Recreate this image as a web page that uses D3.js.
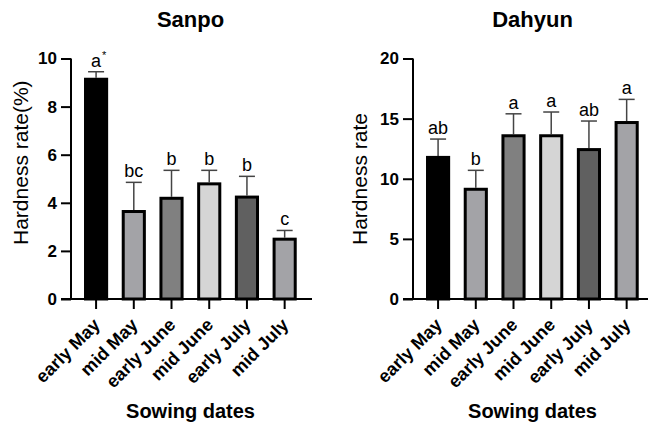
<!DOCTYPE html>
<html>
<head>
<meta charset="utf-8">
<script src="https://cdn.jsdelivr.net/npm/d3@7"></script>
<style>
  body { margin: 0; background: #fff; }
  text { font-family: Arial, "Liberation Sans", sans-serif; fill: #000; }
</style>
</head>
<body>
<div id="chart"></div>
<script>
// Data
const dates = ["early May", "mid May", "early June", "mid June", "early July", "mid July"];
const barColors = ["#000000", "#a3a3a7", "#808080", "#d5d5d5", "#606060", "#a3a3a7"];

const sanpoMean = [9.2, 3.7, 4.25, 4.85, 4.3, 2.55];
const sanpoErr = [0.25, 1.15, 1.1, 0.5, 0.8, 0.3];
const sanpoLetters = ["a", "bc", "b", "b", "b", "c"];
const sanpoMarks = ["*", "", "", "", "", ""];
const sanpoTicks = [0, 2, 4, 6, 8, 10];

const dahyunMean = [11.9, 9.25, 13.7, 13.7, 12.55, 14.8];
const dahyunErr = [1.4, 1.45, 1.7, 1.85, 2.25, 1.8];
const dahyunLetters = ["ab", "b", "a", "a", "ab", "a"];
const dahyunMarks = ["", "", "", "", "", ""];
const dahyunTicks = [0, 5, 10, 15, 20];

const W = 648, H = 423;
const svg = d3.select("#chart").append("svg")
  .attr("width", W)
  .attr("height", H);

function panel(opt) {
  var x0 = opt.left, plotW = 241;
  var yTop = 58.5, yBot = 299;

  var x = d3.scaleBand()
    .domain(dates)
    .range([x0, x0 + plotW])
    .paddingInner(0.36)
    .paddingOuter(0.375)
    .align(0.46);

  var y = d3.scaleLinear()
    .domain([0, opt.max])
    .range([yBot, yTop]);

  var g = svg.append("g");

  // title
  g.append("text")
    .attr("x", x0 + plotW / 2 - 1)
    .attr("y", 27)
    .attr("text-anchor", "middle")
    .style("font-size", "22px")
    .style("font-weight", "bold")
    .text(opt.title);

  var rows = dates.map(function(d, i) {
    return {date: d, mean: opt.mean[i], err: opt.err[i], letter: opt.letters[i], mark: opt.marks[i], color: barColors[i]};
  });

  // error bars (upper only)
  var eb = g.selectAll(".err").data(rows).enter().append("g").attr("class", "err");
  eb.append("line")
    .attr("x1", d => x(d.date) + x.bandwidth() / 2)
    .attr("x2", d => x(d.date) + x.bandwidth() / 2)
    .attr("y1", d => y(d.mean))
    .attr("y2", d => y(d.mean + d.err))
    .style("stroke", "#444")
    .style("stroke-width", 1.5);
  eb.append("line")
    .attr("x1", d => x(d.date) + x.bandwidth() / 2 - 8)
    .attr("x2", d => x(d.date) + x.bandwidth() / 2 + 8)
    .attr("y1", d => y(d.mean + d.err))
    .attr("y2", d => y(d.mean + d.err))
    .style("stroke", "#444")
    .style("stroke-width", 1.5);

  // bars
  g.selectAll(".bar").data(rows).enter().append("rect")
    .attr("class", "bar")
    .attr("x", d => x(d.date) + 1.5)
    .attr("width", x.bandwidth() - 3)
    .attr("y", d => y(d.mean) + 1.5)
    .attr("height", d => yBot - y(d.mean) - 1.5)
    .style("fill", d => d.color)
    .style("stroke", "#000")
    .style("stroke-width", 3);

  // significance letters
  g.selectAll(".letter").data(rows).enter().append("text")
    .attr("class", "letter")
    .attr("x", d => x(d.date) + x.bandwidth() / 2)
    .attr("y", d => y(d.mean + d.err) - 5)
    .attr("text-anchor", "middle")
    .style("font-size", "18px")
    .text(d => d.letter);
  g.selectAll(".mark").data(rows.filter(d => d.mark)).enter().append("text")
    .attr("class", "mark")
    .attr("x", d => x(d.date) + x.bandwidth() / 2 + 6)
    .attr("y", d => y(d.mean + d.err) - 13)
    .style("font-size", "11px")
    .text(d => d.mark);

  // y axis
  var yAxis = d3.axisLeft(y).tickValues(opt.ticks).tickSize(10).tickPadding(4);
  var ya = g.append("g").attr("transform", "translate(" + x0 + ",0)").call(yAxis);
  ya.select(".domain").attr("d", "M0," + yTop + "V" + yBot).style("stroke-width", 2);
  ya.selectAll(".tick line").style("stroke-width", 2);
  ya.selectAll(".tick text")
    .style("font-size", "17px")
    .style("font-weight", "bold")
    .style("font-family", "Arial, 'Liberation Sans', sans-serif");

  // x axis
  var xAxis = d3.axisBottom(x).tickSize(10).tickSizeOuter(0);
  var xa = g.append("g").attr("transform", "translate(0," + yBot + ")").call(xAxis);
  xa.select(".domain").attr("d", "M" + (x0 - 10) + ",0H" + (x0 + plotW)).style("stroke-width", 2);
  xa.selectAll(".tick line").style("stroke-width", 2);
  xa.selectAll(".tick text")
    .attr("text-anchor", "end")
    .attr("x", 0).attr("y", 0).attr("dy", null)
    .attr("transform", "translate(5,27) rotate(-45)")
    .style("font-size", "18px")
    .style("font-weight", "bold")
    .style("font-family", "Arial, 'Liberation Sans', sans-serif");

  // axis titles
  g.append("text")
    .attr("transform", "translate(" + (x0 - opt.ylabOff) + ",245) rotate(-90)")
    .style("font-size", "21px")
    .text(opt.ylabel);

  g.append("text")
    .attr("x", x0 + plotW / 2 - 1)
    .attr("y", 418)
    .attr("text-anchor", "middle")
    .style("font-size", "20px")
    .style("font-weight", "bold")
    .text("Sowing dates");
}

panel({left: 71, max: 10, ticks: sanpoTicks, mean: sanpoMean, err: sanpoErr,
  letters: sanpoLetters, marks: sanpoMarks, title: "Sanpo", ylabel: "Hardness rate(%)", ylabOff: 43});
panel({left: 413, max: 20, ticks: dahyunTicks, mean: dahyunMean, err: dahyunErr,
  letters: dahyunLetters, marks: dahyunMarks, title: "Dahyun", ylabel: "Hardness rate", ylabOff: 46});
</script>
</body>
</html>
